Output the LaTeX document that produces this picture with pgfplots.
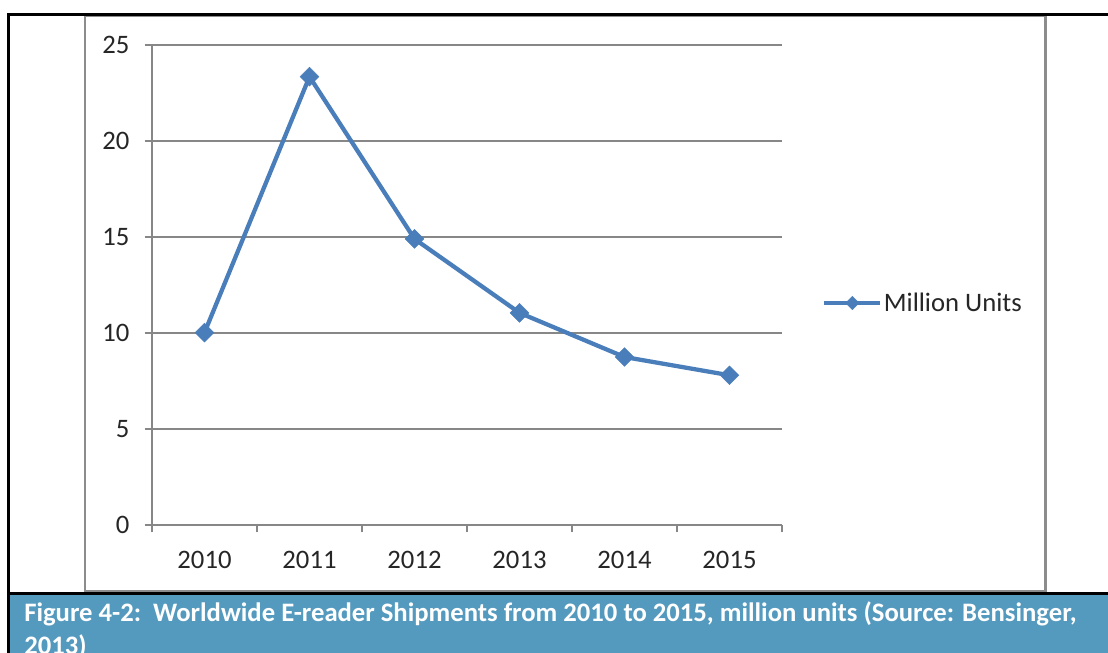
\documentclass[border=0pt]{standalone}
\usepackage{pgfplots}
\pgfplotsset{compat=1.18}
\usepackage{fontspec}
\setmainfont{Carlito}
\definecolor{linecol}{HTML}{4A7EBB}
\definecolor{capcol}{RGB}{84,153,190}
\definecolor{axgray}{HTML}{878787}
\definecolor{framegray}{HTML}{8C8C8C}
\begin{document}
\begin{tikzpicture}
\begin{scope}[x=0.75pt,y=-0.75pt]
\useasboundingbox (0,0) rectangle (1108,653);
\clip (0,0) rectangle (1108,653);
\fill[white] (0,0) rectangle (1108,653);
\fill[capcol] (9,595) rectangle (1108,653);
\draw[framegray, line width=1.9pt] (85,16) rectangle (1045.5,591.5);
\draw[black, line width=2.2pt] (1108,14.5) -- (8.5,14.5) -- (8.5,653);
\draw[black, line width=2.2pt] (8.5,593.8) -- (1108,593.8);
\node[anchor=base west, text=white, font=\fontsize{20}{24}\selectfont\bfseries, inner sep=0pt] at (24,621) {Figure 4-2:\ \ Worldwide E-reader Shipments from 2010 to 2015, million units (Source: Bensinger,};
\node[anchor=base west, text=white, font=\fontsize{20}{24}\selectfont\bfseries, inner sep=0pt] at (24,654) {2013)};
\end{scope}
\begin{axis}[
  at={(114pt,-393.75pt)}, anchor=south west,
  scale only axis, width=472.5pt, height=360pt,
  xmin=-0.5, xmax=5.5, ymin=0, ymax=25,
  axis x line*=bottom, axis y line*=left,
  axis line style={draw=axgray, line width=1.1pt, -},
  xtick={0,1,2,3,4,5},
  xticklabels={2010,2011,2012,2013,2014,2015},
  minor xtick={-0.5,0.5,1.5,2.5,3.5,4.5,5.5},
  major x tick style={draw=none},
  minor x tick style={draw=axgray, line width=1.1pt},
  minor tick length=5.5pt,
  ytick={0,5,10,15,20,25},
  y tick style={draw=axgray, line width=1.1pt},
  major tick length=5.5pt,
  tick align=outside,
  ymajorgrids,
  grid style={draw=axgray, line width=1.1pt},
  /pgf/number format/assume math mode=true,
  tick label style={font=\fontsize{20}{24}\selectfont, text=black!85},
  xticklabel style={yshift=-10.5pt},
  yticklabel style={xshift=-8pt},
  legend style={at={(1.0635,0.4625)}, anchor=west, draw=none, fill=none,
    font=\fontsize{20}{24}\selectfont, text=black!85, inner sep=0pt,
    nodes={inner sep=1pt}},
  legend image code/.code={\draw[mark repeat=2,mark phase=2,#1,mark size=3.6pt] plot coordinates {(0pt,0pt)(21pt,0pt)(42pt,0pt)};},
  clip=false,
]
\addplot[color=linecol, line width=3.2pt, mark=square*, mark size=5pt,
  mark options={rotate=45, line width=0.3pt, fill=linecol, draw=linecol}]
  coordinates {(0,10.02) (1,23.35) (2,14.9) (3,11.05) (4,8.75) (5,7.8)};
\addlegendentry{Million Units}
\end{axis}
\end{tikzpicture}
\end{document}
